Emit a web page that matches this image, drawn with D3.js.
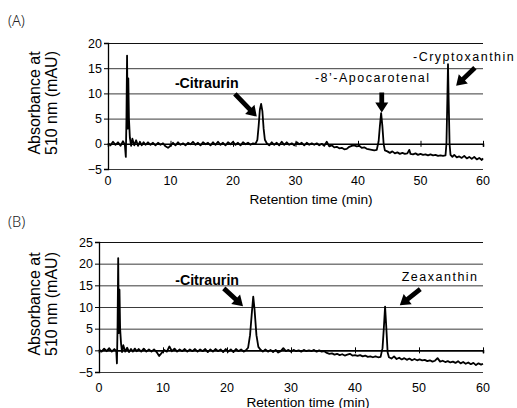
<!DOCTYPE html>
<html><head><meta charset="utf-8">
<script src="https://cdn.jsdelivr.net/npm/d3@7"></script>
<style>body{margin:0;background:#fff}svg{display:block}</style>
</head><body>
<script>
// ---------- DATA ----------
const panelLabels = ["(A)", "(B)"];
const xTicks = [0, 10, 20, 30, 40, 50, 60];
const yTicksA = [-5, 0, 5, 10, 15, 20];
const yTicksB = [-5, 0, 5, 10, 15, 20, 25];
const xTitle = "Retention time (min)";
const yTitle = ["Absorbance at", "510 nm (mAU)"];

const timeA = [0,0.4,0.8,1.2,1.6,2.0,2.4,2.7,2.85,2.95,3.05,3.15,3.25,3.35,3.5,3.7,3.9,4.2,4.5,4.8,5.1,5.4,5.7,6.0,6.4,6.8,7.2,7.6,8.0,8.4,8.8,9.2,9.6,10.0,10.4,10.8,11.2,11.6,12.0,12.4,12.8,13.2,13.6,14.0,14.4,14.8,15.2,15.6,16.0,16.4,16.8,17.2,17.6,18.0,18.4,18.8,19.2,19.6,20.0,20.4,20.8,21.2,21.6,22.0,22.4,22.8,23.2,23.6,23.9,24.1,24.3,24.5,24.7,24.9,25.1,25.4,25.8,26.2,26.6,27.0,27.4,27.8,28.2,28.6,29.0,29.4,29.8,30.2,30.6,31.0,31.4,31.8,32.2,32.6,33.0,33.4,33.8,34.2,34.6,35.0,35.4,35.8,36.2,36.6,37.0,37.4,37.8,38.2,38.6,39.0,39.4,39.8,40.2,40.6,41.0,41.4,41.8,42.2,42.6,43.0,43.3,43.5,43.7,43.9,44.1,44.3,44.7,45.1,45.5,45.9,46.3,46.7,47.1,47.5,47.9,48.2,48.4,48.8,49.2,49.6,50.0,50.4,50.8,51.2,51.6,52.0,52.4,52.8,53.2,53.6,54.0,54.15,54.3,54.4,54.5,54.65,54.8,55.1,55.4,55.8,56.2,56.6,57.0,57.4,57.8,58.2,58.6,59.0,59.4,59.8,60.0];
const absA = [0.1,-0.3,0.4,-0.2,0.3,-0.4,0.5,-0.2,-2.6,4.8,17.5,3,13,5,1.2,-0.4,1.0,-0.3,0.7,-0.4,0.4,-0.3,0.3,-0.2,0.3,-0.2,0.2,-0.3,0.2,-0.2,0.1,-0.5,-0.8,-0.4,0.2,-0.3,0.3,-0.2,0.1,-0.3,0.2,-0.1,0.4,-0.2,0.2,-0.3,0.3,-0.1,0.2,-0.3,0.3,-0.2,0.4,-0.2,0.2,-0.3,0.3,-0.1,0.4,-0.2,0.2,-0.3,0.3,-0.1,0.2,-0.2,0.1,0.0,0.8,3.5,6.8,7.9,6.5,3.0,0.8,0.1,-0.3,0.3,-0.2,0.2,-0.3,0.4,-0.2,0.3,-0.2,0.1,-0.3,0.3,-0.1,0.2,-0.3,0.2,-0.2,0.1,-0.2,0.1,-0.3,0.0,-0.4,0.4,-0.5,-0.3,-0.7,-0.6,-0.9,-0.8,-1.1,-1.0,-0.6,-0.4,-0.3,-0.5,-0.4,-0.8,-0.7,-1.0,-1.1,-1.2,-1.3,-1.2,0.5,3.5,6.1,3.5,0.0,-1.3,-1.5,-1.8,-1.5,-1.9,-1.7,-2.0,-1.8,-2.0,-1.9,-1.2,-2.0,-2.1,-1.9,-2.2,-2.0,-2.2,-2.1,-2.3,-2.1,-2.3,-2.2,-2.4,-2.3,-2.4,-2.3,0,9,15.8,9,0,-2.2,-2.6,-2.2,-2.7,-2.5,-2.8,-2.4,-2.9,-2.6,-3.0,-2.6,-3.1,-2.8,-3.2,-2.9];

const timeB = [0,0.4,0.8,1.2,1.6,2.0,2.4,2.7,2.8,2.9,3.0,3.1,3.2,3.3,3.45,3.6,3.8,4.1,4.4,4.7,5.0,5.3,5.6,5.9,6.2,6.6,7.0,7.4,7.8,8.2,8.6,9.0,9.4,9.8,10.2,10.6,11.0,11.4,11.8,12.2,12.6,13.0,13.4,13.8,14.2,14.6,15.0,15.4,15.8,16.2,16.6,17.0,17.4,17.8,18.2,18.6,19.0,19.4,19.8,20.2,20.6,21.0,21.4,21.8,22.2,22.6,23.0,23.3,23.6,23.9,24.1,24.3,24.6,24.9,25.2,25.6,26.0,26.4,26.8,27.2,27.6,28.0,28.4,28.8,29.2,29.6,30.0,30.4,30.8,31.2,31.6,32.0,32.4,32.8,33.2,33.6,34.0,34.4,34.8,35.2,35.6,36.0,36.4,36.8,37.2,37.6,38.0,38.4,38.8,39.2,39.6,40.0,40.4,40.8,41.2,41.6,42.0,42.4,42.8,43.2,43.6,44.0,44.3,44.5,44.7,44.9,45.1,45.3,45.7,46.1,46.5,46.9,47.3,47.7,48.1,48.5,48.9,49.3,49.7,50.1,50.5,50.9,51.3,51.7,52.1,52.5,52.9,53.3,53.7,54.1,54.5,54.9,55.3,55.7,56.1,56.5,56.9,57.3,57.7,58.1,58.5,58.9,59.3,59.7,60.0];
const absB = [0.2,-0.3,0.4,-0.2,0.5,-0.3,0.3,-0.2,-3,5.5,21.3,4,14,5,1.5,-0.4,1.2,-0.3,0.6,-0.4,0.3,-0.3,0.4,-0.2,0.3,-0.3,0.4,-0.3,0.2,-0.3,0.2,-0.4,-1.3,-0.6,0.1,-0.3,0.9,-0.2,0.4,-0.3,0.2,-0.2,0.3,-0.3,0.2,-0.2,0.3,-0.3,0.2,-0.2,0.3,-0.4,0.2,-0.3,0.3,-0.2,0.2,-0.4,0.3,-0.3,0.2,-0.4,0.3,-0.2,0.2,-0.3,0.1,0.6,3.5,9,12.4,9.5,3.5,0.8,0.2,-0.3,0.2,-0.3,0.1,-0.4,0.1,-0.5,-0.2,0.5,-0.2,0.1,-0.3,0.1,-0.2,0.0,-0.3,0.1,-0.2,0.0,-0.2,0.1,-0.3,0.0,-0.3,-0.2,-0.6,-0.8,-0.7,-1.0,-0.8,-1.1,-0.9,-1.2,-1.0,-0.8,-1.2,-1.1,-1.3,-1.1,-1.4,-1.2,-1.5,-1.4,-1.6,-1.4,-1.6,-1.5,0.5,5,10.1,5,-0.5,-1.6,-1.9,-1.4,-2.0,-1.7,-2.1,-1.8,-2.2,-1.9,-2.3,-2.0,-2.3,-2.1,-2.3,-2.2,-2.5,-2.3,-2.6,-2.4,-1.8,-2.6,-2.4,-2.7,-2.5,-2.8,-2.6,-2.9,-2.5,-3.0,-2.7,-3.1,-2.8,-3.2,-2.9,-3.4,-3.0,-3.3,-3.1];

// peak annotations (text anchor & arrows in data units: time, mAU)
const labelsA = [
  {text: "-Citraurin", t: 10.7, v: 11.1, bold: true},
  {text: "-8’-Apocarotenal", t: 33.1, v: 12.3, bold: false},
  {text: "-Cryptoxanthin", t: 48.8, v: 16.5, bold: false}
];
const arrowsA = [
  {t0: 20.3, v0: 9.9, t1: 23.8, v1: 5.4},
  {t0: 43.8, v0: 10.2, t1: 43.8, v1: 6.2},
  {t0: 58.7, v0: 15.1, t1: 55.7, v1: 11.5}
];
const labelsB = [
  {text: "-Citraurin", t: 11.9, v: 15.0, bold: true},
  {text: "Zeaxanthin", t: 47.3, v: 15.9, bold: false}
];
const arrowsB = [
  {t0: 19.5, v0: 14.3, t1: 22.5, v1: 10.2},
  {t0: 50.2, v0: 14.1, t1: 47.0, v1: 10.4}
];

// ---------- DRAWING ----------
const W = 517, H = 408;
const svg = d3.select("body").append("svg").attr("width", W).attr("height", H)
  .style("font-family", "'Liberation Sans', Arial, sans-serif");

const panels = [
  {label: panelLabels[0], time: timeA, abs: absA, yTicks: yTicksA, labels: labelsA, arrows: arrowsA,
   x0: 108, x1: 483, yTop: 43, yBot: 169, labelY: 26, tickLabelY: 185, titleY: 204, titleX: 311},
  {label: panelLabels[1], time: timeB, abs: absB, yTicks: yTicksB, labels: labelsB, arrows: arrowsB,
   x0: 99, x1: 483, yTop: 242, yBot: 372, labelY: 227, tickLabelY: 392, titleY: 406.5, titleX: 308}
];

function arrowPath(x0, y0, x1, y1) {
  const dx = x1 - x0, dy = y1 - y0, L = Math.hypot(dx, dy);
  const ux = dx / L, uy = dy / L, px = -uy, py = ux;
  const hl = 10, hw = 6.5, sw = 2.4;
  const bx = x1 - ux * hl, by = y1 - uy * hl;
  const pts = [
    [x0 + px * sw, y0 + py * sw], [bx + px * sw, by + py * sw], [bx + px * hw, by + py * hw],
    [x1, y1], [bx - px * hw, by - py * hw], [bx - px * sw, by - py * sw], [x0 - px * sw, y0 - py * sw]
  ];
  return "M" + pts.map(p => p.join(",")).join("L") + "Z";
}

panels.forEach(p => {
  const yd = d3.extent(p.yTicks);
  const x = d3.scaleLinear().domain([0, 60]).range([p.x0, p.x1]);
  const y = d3.scaleLinear().domain(yd).range([p.yBot, p.yTop]);
  const g = svg.append("g");

  // panel label
  g.append("text").attr("x", 8).attr("y", p.labelY).attr("font-size", 14.5)
    .attr("font-family", "'Noto Sans', 'Liberation Sans', sans-serif").attr("font-weight", 300)
    .attr("fill", "#222").text(p.label);

  // grid lines (non-zero) via axis
  const grid = d3.axisRight(y).tickValues(p.yTicks.filter(v => v !== 0))
    .tickSize(p.x1 - p.x0).tickFormat("");
  const gg = g.append("g").attr("transform", `translate(${p.x0},0)`).call(grid);
  gg.select(".domain").remove();
  gg.selectAll(".tick line").attr("stroke", d => d === yd[1] ? "#111" : "#3a3a3a")
    .attr("stroke-width", 1);

  // y axis
  const yAxis = d3.axisLeft(y).tickValues(p.yTicks).tickSize(4).tickPadding(2);
  const ya = g.append("g").attr("transform", `translate(${p.x0},0)`).call(yAxis);
  ya.select(".domain").attr("stroke", "#000").attr("stroke-width", 1.3);
  ya.selectAll(".tick line").attr("stroke", "#000");
  ya.selectAll(".tick text").attr("font-size", 12.5).attr("font-family", "'Liberation Sans', Arial, sans-serif")
    .attr("fill", "#000");

  // x axis at zero
  const xAxis = d3.axisBottom(x).tickValues(xTicks).tickSize(3).tickFormat("");
  const xa = g.append("g").attr("transform", `translate(0,${y(0)})`).call(xAxis);
  xa.select(".domain").attr("stroke", "#000").attr("stroke-width", 1.6);
  xa.selectAll(".tick line").attr("stroke", "#000").attr("y1", -3).attr("y2", 3);

  // x tick labels under bottom line
  g.selectAll(".xl").data(xTicks).enter().append("text")
    .attr("x", d => x(d)).attr("y", p.tickLabelY).attr("text-anchor", "middle")
    .attr("font-size", 12.5).attr("fill", "#000").text(d => d);

  // x title
  g.append("text").attr("x", p.titleX).attr("y", p.titleY).attr("text-anchor", "middle")
    .attr("font-size", 13.7).attr("fill", "#000").text(xTitle);

  // y title
  const cy = (p.yTop + p.yBot) / 2 - 3;
  yTitle.forEach((s, i) => {
    g.append("text").attr("transform", `translate(${40 + i * 17},${cy}) rotate(-90)`)
      .attr("text-anchor", "middle").attr("font-size", 16).attr("fill", "#000").text(s);
  });

  // chromatogram
  const line = d3.line().x((d, i) => x(p.time[i])).y(d => y(d));
  g.append("path").datum(p.abs).attr("d", line).attr("fill", "none")
    .attr("stroke", "#000").attr("stroke-width", 1.8).attr("stroke-linejoin", "round");

  // labels
  p.labels.forEach(l => {
    g.append("text").attr("x", x(l.t)).attr("y", y(l.v))
      .attr("font-size", l.bold ? 14.2 : 12.5).attr("font-weight", l.bold ? "bold" : "normal")
      .attr("letter-spacing", l.bold ? 0 : 1.5).attr("fill", "#000").text(l.text);
  });
  // arrows
  p.arrows.forEach(a => {
    g.append("path").attr("d", arrowPath(x(a.t0), y(a.v0), x(a.t1), y(a.v1))).attr("fill", "#000");
  });
});
</script>
</body></html>
